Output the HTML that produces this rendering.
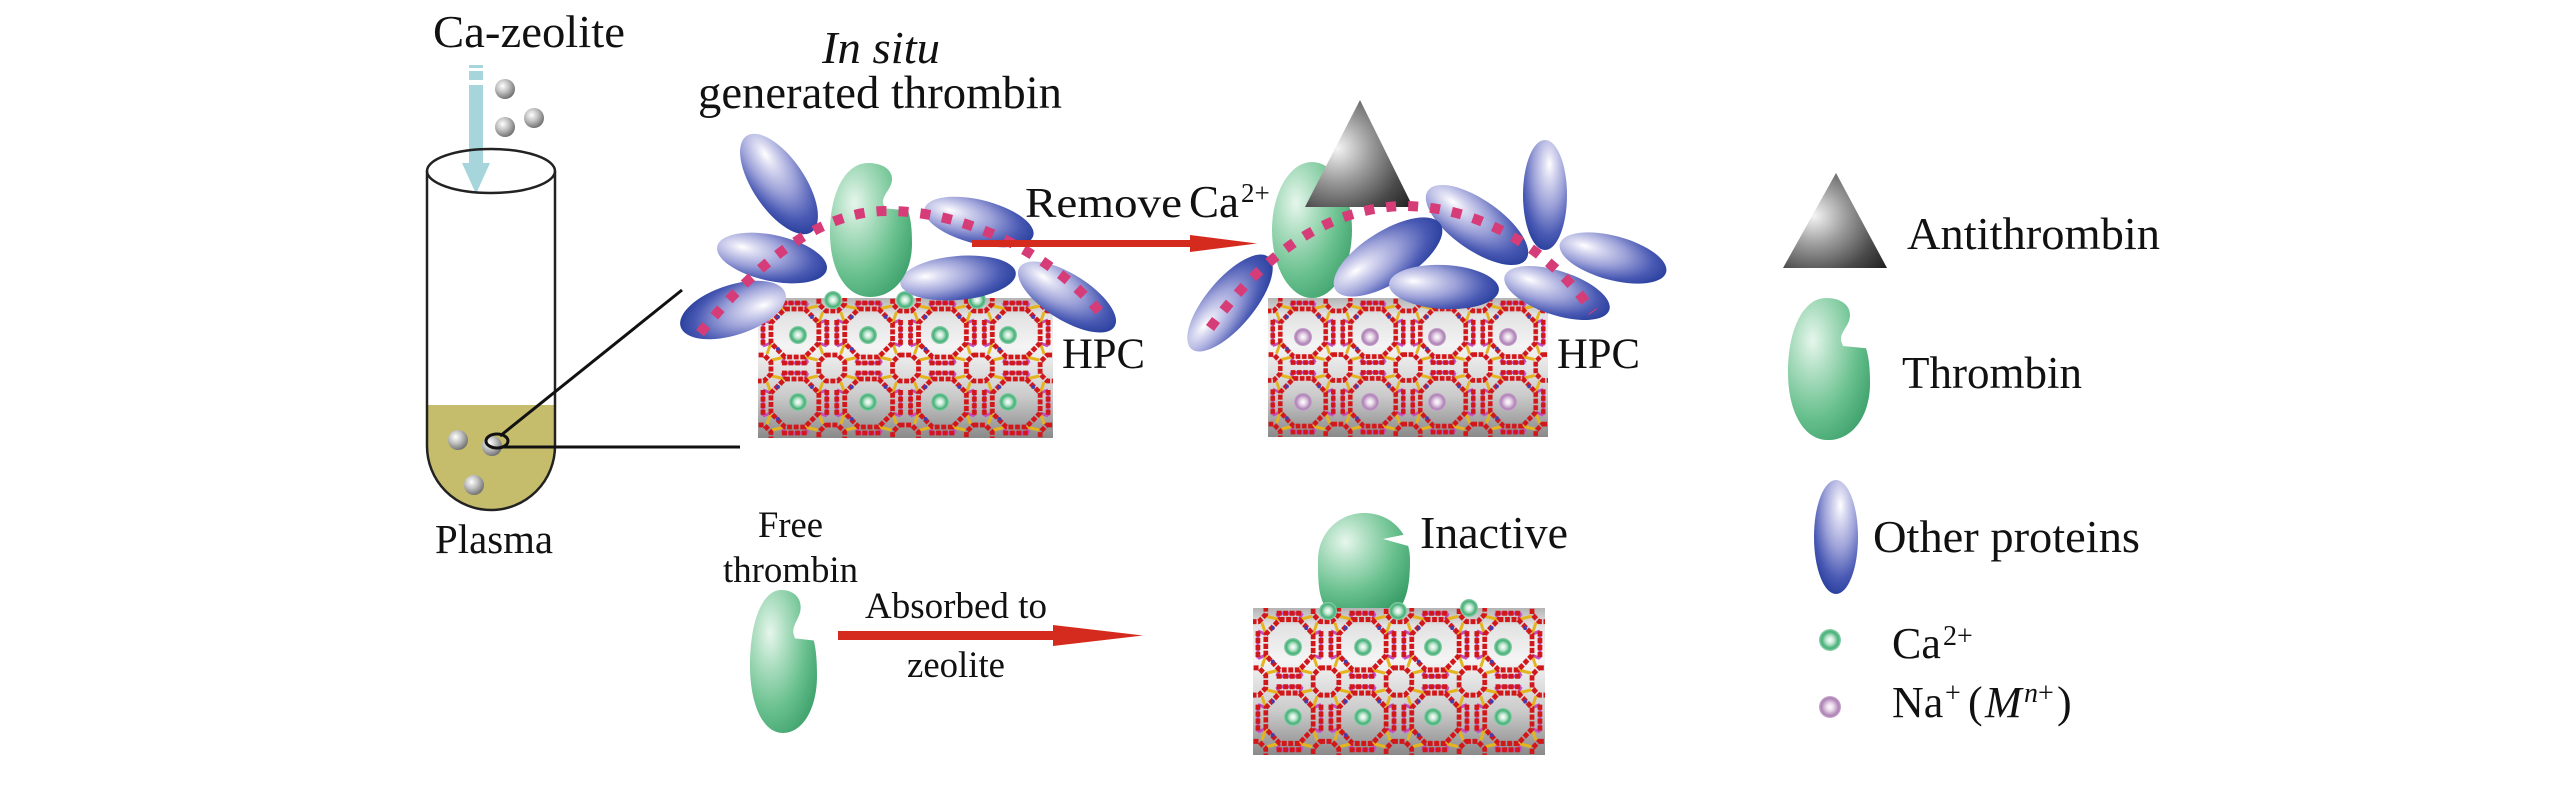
<!DOCTYPE html>
<html><head><meta charset="utf-8"><style>
html,body{margin:0;padding:0;background:#fff;}
body{width:2567px;height:787px;overflow:hidden;}
svg{display:block;}
text{font-family:"Liberation Serif","Times New Roman",serif;fill:#111;}
</style></head><body>
<svg width="2567" height="787" viewBox="0 0 2567 787" xmlns="http://www.w3.org/2000/svg">
<defs>
  <radialGradient id="gBlue" cx="0.28" cy="0.42" r="0.8" fx="0.22" fy="0.4">
    <stop offset="0" stop-color="#ffffff"/>
    <stop offset="0.15" stop-color="#dcdcf2"/>
    <stop offset="0.45" stop-color="#9ca1d8"/>
    <stop offset="0.75" stop-color="#4a5ab4"/>
    <stop offset="1" stop-color="#1c3594"/>
  </radialGradient>
  <radialGradient id="gGreen" cx="0.3" cy="0.3" r="0.85">
    <stop offset="0" stop-color="#e6f6ec"/>
    <stop offset="0.3" stop-color="#a8dcbd"/>
    <stop offset="0.65" stop-color="#66bf8c"/>
    <stop offset="1" stop-color="#3a9e68"/>
  </radialGradient>
  <radialGradient id="gTri" cx="0.3" cy="0.45" r="0.9">
    <stop offset="0" stop-color="#f4f4f4"/>
    <stop offset="0.35" stop-color="#9a9a9a"/>
    <stop offset="0.7" stop-color="#4a4a4a"/>
    <stop offset="1" stop-color="#1c1c1c"/>
  </radialGradient>
  <radialGradient id="gBall" cx="0.38" cy="0.35" r="0.7">
    <stop offset="0" stop-color="#ffffff"/>
    <stop offset="0.45" stop-color="#c2c2c2"/>
    <stop offset="1" stop-color="#6a6a6a"/>
  </radialGradient>
  <radialGradient id="gCa" cx="0.5" cy="0.5" r="0.5">
    <stop offset="0" stop-color="#ffffff"/>
    <stop offset="0.35" stop-color="#c4e8d3"/>
    <stop offset="0.75" stop-color="#45b077"/>
    <stop offset="1" stop-color="#8fd0ac"/>
  </radialGradient>
  <radialGradient id="gNa" cx="0.5" cy="0.5" r="0.5">
    <stop offset="0" stop-color="#ffffff"/>
    <stop offset="0.35" stop-color="#e8d6e8"/>
    <stop offset="0.8" stop-color="#ad82b6"/>
    <stop offset="1" stop-color="#c9a9cd"/>
  </radialGradient>
  <linearGradient id="gBlock" x1="0" y1="0" x2="0" y2="1">
    <stop offset="0" stop-color="#b4b4b4"/>
    <stop offset="0.12" stop-color="#e2e2e2"/>
    <stop offset="0.35" stop-color="#f4f4f4"/>
    <stop offset="0.7" stop-color="#cbcbcb"/>
    <stop offset="1" stop-color="#8a8a8a"/>
  </linearGradient>
  <g id="cell" fill="none" stroke-linejoin="round">
    <g stroke="#c24fc4" stroke-width="3">
      <path d="M13,25 L5,22 M61,25 L69,22 M13,45 L5,48 M61,45 L69,48 M27,11 L24,5 M47,11 L50,5 M27,59 L24,65 M47,59 L50,65"/>
      <path d="M-5,22 V48 M5,22 V48 M69,22 V48 M79,22 V48 M24,-5 H50 M24,5 H50 M24,65 H50 M24,75 H50"/>
    </g>
    <g stroke="#e3b41f" stroke-width="3">
      <path d="M13,25 L9,14 M61,25 L65,14 M13,45 L9,56 M61,45 L65,56 M27,11 L14,8 M47,11 L60,8 M27,59 L14,62 M47,59 L60,62"/>
    </g>
    <g stroke="#d2171b" stroke-width="4.8" stroke-dasharray="5 1.6">
      <path d="M27,11 L47,11 L61,25 L61,45 L47,59 L27,59 L13,45 L13,25 Z"/>
      <path d="M-6,-13 L6,-13 L13,-6 L13,6 L6,13 L-6,13 L-13,6 L-13,-6 Z"/>
      <path d="M68,-13 L80,-13 L87,-6 L87,6 L80,13 L68,13 L61,6 L61,-6 Z"/>
      <path d="M-6,57 L6,57 L13,64 L13,76 L6,83 L-6,83 L-13,76 L-13,64 Z"/>
      <path d="M68,57 L80,57 L87,64 L87,76 L80,83 L68,83 L61,76 L61,64 Z"/>
      <path d="M-5,22 V48 M5,22 V48 M69,22 V48 M79,22 V48 M24,-5 H50 M24,5 H50 M24,65 H50 M24,75 H50"/>
    </g>
    <g fill="#4a3aa8" stroke="none">
      <circle cx="20" cy="19" r="2"/><circle cx="54" cy="19" r="2"/><circle cx="20" cy="51" r="2"/>
    </g>
  </g>
  <pattern id="lat1" width="74" height="70" patternUnits="userSpaceOnUse" patternTransform="translate(758,298) scale(0.997,1)">
    <use href="#cell"/>
  </pattern>
  <pattern id="lat2" width="74" height="70" patternUnits="userSpaceOnUse" patternTransform="translate(1268,298) scale(0.946,0.993)">
    <use href="#cell"/>
  </pattern>
  <pattern id="lat3" width="74" height="70" patternUnits="userSpaceOnUse" patternTransform="translate(1253,608) scale(0.986,1.05)">
    <use href="#cell"/>
  </pattern>
  <path id="thr" d="M40,133 C15,133 0,105 0,70 C0,28 16,0 38,0 C52,0 62,6 62,16 C62,26 52,31 53,40 L55,45 L78,47 C81,56 82,66 82,80 C82,110 65,133 40,133 Z"/>
</defs>

<rect width="2567" height="787" fill="#fff"/>

<!-- Test tube -->
<text x="433" y="47" font-size="46" textLength="192" lengthAdjust="spacingAndGlyphs">Ca-zeolite</text>
<rect x="469" y="65" width="14" height="3" fill="#a6d6db"/>
<rect x="469" y="71" width="14" height="9" fill="#a6d6db"/>
<rect x="469" y="85" width="14" height="80" fill="#a6d6db"/>
<polygon points="462,163 490,163 476,194" fill="#a6d6db"/>
<circle cx="505" cy="89" r="10" fill="url(#gBall)"/>
<circle cx="505" cy="127" r="10" fill="url(#gBall)"/>
<circle cx="534" cy="118" r="10" fill="url(#gBall)"/>

<path d="M427,405 H555 V446 A64,64 0 0 1 427,446 Z" fill="#c5bd6c"/>
<path d="M427,171 V446 A64,64 0 0 0 555,446 V171" fill="none" stroke="#222" stroke-width="2.5"/>
<ellipse cx="491" cy="171" rx="64" ry="22" fill="none" stroke="#222" stroke-width="2.5"/>
<circle cx="458" cy="440" r="10" fill="url(#gBall)"/>
<circle cx="492" cy="446" r="10" fill="url(#gBall)"/>
<circle cx="474" cy="485" r="10" fill="url(#gBall)"/>
<ellipse cx="497" cy="441" rx="11" ry="7" fill="none" stroke="#111" stroke-width="3"/>
<line x1="500" y1="436" x2="682" y2="290" stroke="#111" stroke-width="3"/>
<line x1="503" y1="447" x2="740" y2="447" stroke="#111" stroke-width="3"/>
<text x="435" y="553" font-size="41" textLength="118" lengthAdjust="spacingAndGlyphs">Plasma</text>

<!-- Group 1 -->
<text x="822" y="63" font-size="46" font-style="italic" textLength="118" lengthAdjust="spacingAndGlyphs">In situ</text>
<text x="698" y="108" font-size="47" textLength="364" lengthAdjust="spacingAndGlyphs">generated thrombin</text>

<rect x="758" y="298" width="295" height="140" fill="url(#gBlock)"/>
<rect x="758" y="298" width="295" height="140" fill="url(#lat1)"/>
<g>
  <circle cx="798" cy="335" r="9" fill="url(#gCa)"/><circle cx="868" cy="335" r="9" fill="url(#gCa)"/>
  <circle cx="940" cy="335" r="9" fill="url(#gCa)"/><circle cx="1008" cy="335" r="9" fill="url(#gCa)"/>
  <circle cx="798" cy="402" r="9" fill="url(#gCa)"/><circle cx="868" cy="402" r="9" fill="url(#gCa)"/>
  <circle cx="940" cy="402" r="9" fill="url(#gCa)"/><circle cx="1008" cy="402" r="9" fill="url(#gCa)"/>
  <circle cx="833" cy="300" r="9" fill="url(#gCa)"/><circle cx="905" cy="300" r="9" fill="url(#gCa)"/>
  <circle cx="977" cy="300" r="9" fill="url(#gCa)"/>
</g>
<ellipse transform="translate(779,184) rotate(56)" rx="58" ry="26" fill="url(#gBlue)"/>
<ellipse transform="translate(772,258) rotate(12)" rx="56" ry="23" fill="url(#gBlue)"/>
<ellipse transform="translate(733,310) rotate(162)" rx="55" ry="25" fill="url(#gBlue)"/>
<ellipse transform="translate(979,222) rotate(14)" rx="56" ry="22" fill="url(#gBlue)"/>
<ellipse transform="translate(958,278) rotate(-5)" rx="58" ry="22" fill="url(#gBlue)"/>
<ellipse transform="translate(1067,297) rotate(32)" rx="56" ry="23" fill="url(#gBlue)"/>
<use href="#thr" transform="translate(830,163) scale(1,1.0075)" fill="url(#gGreen)"/>
<path d="M700,333 C760,260 820,212 885,211 C960,210 1050,250 1105,318" fill="none" stroke="#d63c78" stroke-width="10" stroke-dasharray="10 12"/>
<text x="1062" y="368" font-size="43" textLength="83" lengthAdjust="spacingAndGlyphs">HPC</text>

<!-- Arrow 1 -->
<rect x="972" y="240" width="220" height="7" fill="#d42b1e"/>
<polygon points="1190,235 1257,243.5 1190,252" fill="#d42b1e"/>
<text x="1025" y="217" font-size="42" textLength="157" lengthAdjust="spacingAndGlyphs">Remove</text>
<text x="1189" y="217" font-size="45">Ca</text>
<text x="1241" y="202" font-size="27">2+</text>

<!-- Group 2 -->
<rect x="1268" y="298" width="280" height="139" fill="url(#gBlock)"/>
<rect x="1268" y="298" width="280" height="139" fill="url(#lat2)"/>
<g>
  <circle cx="1303" cy="337" r="9" fill="url(#gNa)"/><circle cx="1370" cy="337" r="9" fill="url(#gNa)"/>
  <circle cx="1437" cy="337" r="9" fill="url(#gNa)"/><circle cx="1508" cy="337" r="9" fill="url(#gNa)"/>
  <circle cx="1303" cy="402" r="9" fill="url(#gNa)"/><circle cx="1370" cy="402" r="9" fill="url(#gNa)"/>
  <circle cx="1437" cy="402" r="9" fill="url(#gNa)"/><circle cx="1508" cy="402" r="9" fill="url(#gNa)"/>
</g>
<ellipse transform="translate(1545,195) rotate(90)" rx="55" ry="22" fill="url(#gBlue)"/>
<ellipse transform="translate(1613,258) rotate(15)" rx="55" ry="22" fill="url(#gBlue)"/>
<ellipse transform="translate(1477,225) rotate(35)" rx="60" ry="25" fill="url(#gBlue)"/>
<ellipse transform="translate(1230,303) rotate(-50)" rx="60" ry="24" fill="url(#gBlue)"/>
<ellipse cx="1312" cy="230" rx="40" ry="68" fill="url(#gGreen)"/>
<polygon points="1360,100 1305,207 1413,207" fill="url(#gTri)"/>
<ellipse transform="translate(1388,257) rotate(-32)" rx="62" ry="26" fill="url(#gBlue)"/>
<ellipse transform="translate(1444,287) rotate(3)" rx="55" ry="22" fill="url(#gBlue)"/>
<ellipse transform="translate(1557,293) rotate(18)" rx="55" ry="22" fill="url(#gBlue)"/>
<path d="M1210,328 C1260,260 1320,210 1400,206 C1480,205 1550,250 1593,312" fill="none" stroke="#d63c78" stroke-width="10" stroke-dasharray="10 12"/>
<text x="1557" y="368" font-size="43" textLength="83" lengthAdjust="spacingAndGlyphs">HPC</text>

<!-- Bottom row -->
<text x="758" y="537" font-size="37" textLength="65" lengthAdjust="spacingAndGlyphs">Free</text>
<text x="723" y="582" font-size="37" textLength="135" lengthAdjust="spacingAndGlyphs">thrombin</text>
<use href="#thr" transform="translate(750,590) scale(0.817,1.075)" fill="url(#gGreen)"/>
<rect x="838" y="631" width="217" height="9" fill="#d42b1e"/>
<polygon points="1053,625 1143,635.5 1053,646" fill="#d42b1e"/>
<text x="865" y="618" font-size="37" textLength="182" lengthAdjust="spacingAndGlyphs">Absorbed to</text>
<text x="907" y="677" font-size="37" textLength="98" lengthAdjust="spacingAndGlyphs">zeolite</text>

<rect x="1253" y="608" width="292" height="147" fill="url(#gBlock)"/>
<rect x="1253" y="608" width="292" height="147" fill="url(#lat3)"/>
<g>
  <circle cx="1293" cy="647" r="9" fill="url(#gCa)"/><circle cx="1363" cy="647" r="9" fill="url(#gCa)"/>
  <circle cx="1433" cy="647" r="9" fill="url(#gCa)"/><circle cx="1503" cy="647" r="9" fill="url(#gCa)"/>
  <circle cx="1293" cy="717" r="9" fill="url(#gCa)"/><circle cx="1363" cy="717" r="9" fill="url(#gCa)"/>
  <circle cx="1433" cy="717" r="9" fill="url(#gCa)"/><circle cx="1503" cy="717" r="9" fill="url(#gCa)"/>
</g>
<path d="M1326,608 C1318,596 1318,580 1318,560 C1318,532 1340,513 1364,513 C1390,513 1410,532 1410,560 C1410,580 1408,596 1400,608 Z" fill="url(#gGreen)"/>
<polygon points="1412,533 1383,539 1412,547" fill="#fff"/>
<circle cx="1328" cy="611" r="9" fill="url(#gCa)"/>
<circle cx="1398" cy="611" r="9" fill="url(#gCa)"/>
<circle cx="1469" cy="608" r="9" fill="url(#gCa)"/>
<text x="1420" y="548" font-size="46" textLength="148" lengthAdjust="spacingAndGlyphs">Inactive</text>

<!-- Legend -->
<polygon points="1836,173 1783,268 1887,268" fill="url(#gTri)"/>
<text x="1907" y="249" font-size="46" textLength="253" lengthAdjust="spacingAndGlyphs">Antithrombin</text>
<use href="#thr" transform="translate(1788,298) scale(1,1.068)" fill="url(#gGreen)"/>
<text x="1902" y="388" font-size="45" textLength="180" lengthAdjust="spacingAndGlyphs">Thrombin</text>
<ellipse transform="translate(1836,537) rotate(90)" rx="57" ry="22" fill="url(#gBlue)"/>
<text x="1873" y="552" font-size="46" textLength="267" lengthAdjust="spacingAndGlyphs">Other proteins</text>
<circle cx="1830" cy="640" r="11" fill="url(#gCa)"/>
<circle cx="1830" cy="707" r="11" fill="url(#gNa)"/>
<text x="1892" y="658" font-size="44">Ca</text>
<text x="1943" y="645" font-size="28">2+</text>
<text x="1892" y="717" font-size="44">Na</text>
<text x="1945" y="702" font-size="28">+</text>
<text x="1968" y="717" font-size="44">(</text>
<text x="1985" y="717" font-size="44" font-style="italic">M</text>
<text x="2024" y="702" font-size="28"><tspan font-style="italic">n</tspan>+</text>
<text x="2057" y="717" font-size="44">)</text>
</svg>
</body></html>
